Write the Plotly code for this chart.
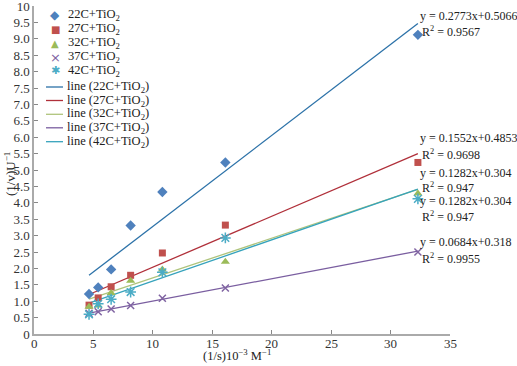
import plotly.graph_objects as go

# ---- data ----
inv_s = [4.63, 5.40, 6.49, 8.13, 10.8, 16.1, 32.3]
series_names = ["22C+TiO<sub>2</sub>", "27C+TiO<sub>2</sub>", "32C+TiO<sub>2</sub>",
                "37C+TiO<sub>2</sub>", "42C+TiO<sub>2</sub>"]
y_22 = [1.22, 1.42, 1.97, 3.31, 4.33, 5.23, 9.12]
y_27 = [0.88, 1.10, 1.44, 1.79, 2.47, 3.32, 5.23]
y_32 = [0.83, 0.87, 1.25, 1.62, 1.97, 2.20, 4.28]
y_37 = [0.63, 0.68, 0.76, 0.87, 1.09, 1.40, 2.50]
y_42 = [0.60, 0.92, 1.06, 1.28, 1.88, 2.93, 4.12]
series_values = [y_22, y_27, y_32, y_37, y_42]

# trend lines (slope, intercept) as drawn
trend_slopes = [0.2773, 0.1552, 0.1210, 0.0684, 0.1255]
trend_intercepts = [0.5066, 0.4853, 0.50, 0.318, 0.36]
eq_texts = ["y = 0.2773x+0.5066", "y = 0.1552x+0.4853", "y = 0.1282x+0.304",
            "y = 0.1282x+0.304", "y = 0.0684x+0.318"]
r2_texts = ["R<sup>2</sup> = 0.9567", "R<sup>2</sup> = 0.9698", "R<sup>2</sup> = 0.947",
            "R<sup>2</sup> = 0.947", "R<sup>2</sup> = 0.9955"]

x_tick_vals = [0, 5, 10, 15, 20, 25, 30, 35]
x_tick_text = ["0", "5", "10", "15", "20", "25", "30", "35"]
y_tick_vals = [0, 0.5, 1, 1.5, 2, 2.5, 3, 3.5, 4, 4.5, 5, 5.5, 6, 6.5, 7, 7.5, 8, 8.5, 9, 9.5, 10]
y_tick_text = ["0", "0.5", "1.0", "1.5", "2.0", "2.5", "3.0", "3.5", "4.0", "4.5", "5.0",
               "5.5", "6.0", "6.5", "7.0", "7.5", "8.0", "8.5", "9.0", "9.5", "10"]
x_title = "(1/s)10<sup>\u22123</sup> M<sup>\u22121</sup>"
y_title = "(1/v)U<sup>\u22121</sup>"

# ---- styles ----
marker_colors = ["#4F81BD", "#C0504D", "#9BBB59", "#8064A2", "#4BACC6"]
line_colors = ["#2C72A8", "#B0303A", "#AFC47C", "#7A5EA0", "#36A3BC"]
symbols = ["diamond", "square", "triangle-up", "x-thin-open", "asterisk-open"]
sizes = [8, 7, 8, 7, 9]
FONT = "Liberation Serif, Times New Roman, Times, serif"

W, H = 517, 366
L, R, T, B = 34, 67, 6, 32
PW, PH = W - L - R, H - T - B

fig = go.Figure()
for i, (name, ys) in enumerate(zip(series_names, series_values)):
    xmin, xmax = min(inv_s), max(inv_s)
    fig.add_trace(go.Scatter(
        x=[xmin, xmax],
        y=[trend_slopes[i] * xmin + trend_intercepts[i], trend_slopes[i] * xmax + trend_intercepts[i]],
        mode="lines", line=dict(color=line_colors[i], width=1.3),
        name="line (" + name + ")", showlegend=False, hoverinfo="skip"))
for i, (name, ys) in enumerate(zip(series_names, series_values)):
    mk = dict(symbol=symbols[i], size=sizes[i], color=marker_colors[i])
    if symbols[i].endswith("open"):
        mk["line"] = dict(color=marker_colors[i], width=1.5)
    fig.add_trace(go.Scatter(x=inv_s, y=ys, mode="markers", marker=mk,
                             name=name, showlegend=False))

def px2paper(px, py):
    return (px - L) / PW, (H - B - py) / PH

annotations = []
shapes = []
# manual legend
glyphs = ["\u25C6", "\u25A0", "\u25B2", "\u00D7", "\u2731"]
glyph_sizes = [12, 10, 10, 13, 11]
row_y_markers = [15, 29.3, 43.3, 57.3, 71]
row_y_lines = [87, 100.5, 114.3, 127.8, 141.7]
for i in range(5):
    gx, gy = px2paper(55, row_y_markers[i])
    annotations.append(dict(x=gx, y=gy, xref="paper", yref="paper", text=glyphs[i],
                            showarrow=False, xanchor="center", yanchor="middle",
                            font=dict(family="DejaVu Sans", size=glyph_sizes[i], color=marker_colors[i])))
    tx, ty = px2paper(66, row_y_markers[i])
    annotations.append(dict(x=tx, y=ty, xref="paper", yref="paper", text=series_names[i],
                            showarrow=False, xanchor="left", yanchor="middle",
                            font=dict(family=FONT, size=12.5, color="#222")))
    x0, yl = px2paper(46, row_y_lines[i])
    x1, _ = px2paper(63, row_y_lines[i])
    shapes.append(dict(type="line", xref="paper", yref="paper", x0=x0, x1=x1, y0=yl, y1=yl,
                       line=dict(color=line_colors[i], width=1.3)))
    tx, ty = px2paper(65, row_y_lines[i])
    annotations.append(dict(x=tx, y=ty, xref="paper", yref="paper",
                            text="line (" + series_names[i] + ")",
                            showarrow=False, xanchor="left", yanchor="middle",
                            font=dict(family=FONT, size=12.5, color="#222")))

# equation labels (pixel rows)
eq_rows = [(16, 32), (138, 154), (173, 187.5), (201, 216), (242, 258)]
for k, (ry1, ry2) in enumerate(eq_rows):
    ax, ay = px2paper(418, ry1)
    annotations.append(dict(x=ax, y=ay, xref="paper", yref="paper", text=eq_texts[k],
                            showarrow=False, xanchor="left", yanchor="middle",
                            font=dict(family=FONT, size=12, color="#222")))
    ax, ay = px2paper(420, ry2)
    annotations.append(dict(x=ax, y=ay, xref="paper", yref="paper", text=r2_texts[k],
                            showarrow=False, xanchor="left", yanchor="middle",
                            font=dict(family=FONT, size=12, color="#222")))

# x tick labels (placed on the x data scale)
_, tick_label_y = px2paper(0, 343)
for v, t in zip(x_tick_vals, x_tick_text):
    annotations.append(dict(x=v, y=tick_label_y, xref="x", yref="paper", text=t,
                            showarrow=False, xanchor="center", yanchor="middle",
                            font=dict(family=FONT, size=13, color="#333")))

# axis titles
ax_, ay_ = px2paper(237, 355)
annotations.append(dict(x=ax_, y=ay_, xref="paper", yref="paper", text=x_title,
                        showarrow=False, xanchor="center", yanchor="middle",
                        font=dict(family=FONT, size=12.5, color="#222")))
ax_, ay_ = px2paper(10, 174)
annotations.append(dict(x=ax_, y=ay_, xref="paper", yref="paper", text=y_title,
                        showarrow=False, xanchor="center", yanchor="middle", textangle=-90,
                        font=dict(family=FONT, size=13, color="#222")))

fig.update_layout(
    width=W, height=H,
    margin=dict(l=L, r=R, t=T, b=B),
    paper_bgcolor="white", plot_bgcolor="white",
    showlegend=False,
    annotations=annotations, shapes=shapes,
    font=dict(family=FONT, size=13, color="#333"),
    xaxis=dict(range=[0, 35], tickvals=x_tick_vals, ticks="inside", ticklen=4,
               tickcolor="#888", showline=True, linecolor="#aaa", linewidth=1.5,
               showgrid=False, zeroline=False, automargin=False,
               showticklabels=False),
    yaxis=dict(range=[0, 10], tickvals=y_tick_vals, ticktext=y_tick_text, ticks="inside",
               ticklen=4, tickcolor="#888", showline=True, linecolor="#aaa", linewidth=1.5,
               showgrid=False, zeroline=False, automargin=False,
               ticklabeloverflow="allow",
               tickfont=dict(family=FONT, size=13, color="#333")),
)

fig.write_html("out.html", config={"displayModeBar": False},
               post_script="document.body.style.margin='0';")
